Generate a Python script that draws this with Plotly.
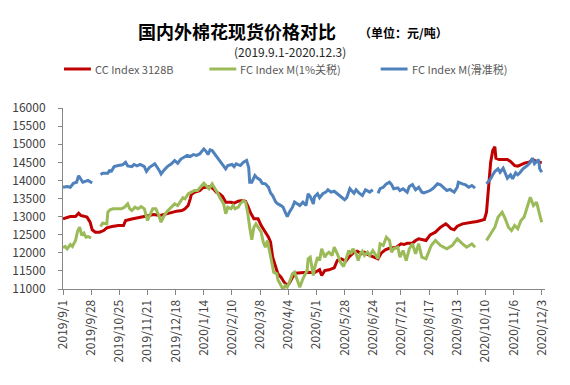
import plotly.graph_objects as go

# ---------------- data ----------------
red_dates = ["2019-09-01","2019-09-04","2019-09-08","2019-09-13","2019-09-16","2019-09-18","2019-09-22","2019-09-24",
             "2019-09-27","2019-09-29","2019-10-02","2019-10-06","2019-10-10","2019-10-13","2019-10-18","2019-10-24",
             "2019-10-29","2019-10-31","2019-11-06","2019-11-14","2019-11-22","2019-11-27","2019-12-03","2019-12-08",
             "2019-12-12","2019-12-19","2019-12-24","2019-12-27","2019-12-30","2020-01-01","2020-01-02","2020-01-05",
             "2020-01-10","2020-01-13","2020-01-17","2020-01-20","2020-01-23","2020-01-26","2020-01-29","2020-02-01",
             "2020-02-04","2020-02-09","2020-02-12","2020-02-16","2020-02-20","2020-02-23","2020-02-25","2020-02-28",
             "2020-03-02","2020-03-06","2020-03-09","2020-03-12","2020-03-16","2020-03-18","2020-03-20","2020-03-23",
             "2020-03-25","2020-03-28","2020-03-31","2020-04-03","2020-04-05","2020-04-08","2020-04-11","2020-04-16",
             "2020-04-23","2020-04-29","2020-05-04","2020-05-06","2020-05-09","2020-05-13","2020-05-18","2020-05-21",
             "2020-05-25","2020-05-29","2020-06-01","2020-06-06","2020-06-09","2020-06-13","2020-06-16","2020-06-19",
             "2020-06-24","2020-06-29","2020-07-02","2020-07-06","2020-07-11","2020-07-16","2020-07-21","2020-07-24",
             "2020-07-27","2020-08-01","2020-08-04","2020-08-07","2020-08-11","2020-08-14","2020-08-18","2020-08-23",
             "2020-08-28","2020-09-02","2020-09-04","2020-09-07","2020-09-10","2020-09-13","2020-09-18","2020-09-22",
             "2020-09-27","2020-10-02","2020-10-07","2020-10-09","2020-10-11","2020-10-12","2020-10-14","2020-10-15",
             "2020-10-17","2020-10-19","2020-10-20","2020-10-23","2020-10-28","2020-10-31","2020-11-03","2020-11-07",
             "2020-11-10","2020-11-13","2020-11-17","2020-11-21","2020-11-24","2020-11-27","2020-12-01","2020-12-03"]
red_vals = [12940,12966,13000,13000,13095,13030,13000,12985,
            12845,12635,12570,12570,12615,12690,12725,12755,
            12755,12890,12935,12985,13030,13058,13030,13058,
            13095,13150,13168,13215,13306,13491,13610,13674,
            13720,13795,13812,13831,13767,13674,13629,13555,
            13397,13397,13370,13425,13444,13425,13306,13094,
            12939,12939,12754,12616,12431,12293,11878,11602,
            11420,11326,11188,11097,11160,11326,11436,11450,
            11465,11447,11530,11373,11511,11530,11585,11787,
            11834,11768,11878,12016,12044,11972,12016,11953,
            11898,11834,11989,12083,12138,12138,12248,12229,
            12266,12266,12340,12386,12359,12340,12497,12569,
            12707,12800,12754,12663,12635,12735,12800,12828,
            12845,12864,12892,12920,13121,13491,14043,14503,
            14825,14930,14613,14577,14577,14577,14522,14411,
            14392,14430,14485,14503,14577,14540,14503,14485]

green_dates = ["2019-09-01","2019-09-03","2019-09-05","2019-09-08","2019-09-10","2019-09-13","2019-09-15","2019-09-17",
               "2019-09-19","2019-09-21","2019-09-23","2019-09-25","2019-09-28","2019-10-03","2019-10-07","2019-10-09",
               "2019-10-13","2019-10-14","2019-10-16","2019-10-19","2019-10-23","2019-10-27","2019-10-30","2019-11-02",
               "2019-11-04","2019-11-06","2019-11-09","2019-11-12","2019-11-15","2019-11-18","2019-11-21","2019-11-23",
               "2019-11-26","2019-11-29","2019-12-02","2019-12-04","2019-12-07","2019-12-10","2019-12-14","2019-12-17",
               "2019-12-20","2019-12-23","2019-12-25","2019-12-27","2019-12-30","2020-01-02","2020-01-05","2020-01-08",
               "2020-01-11","2020-01-14","2020-01-17","2020-01-19","2020-01-22","2020-01-24","2020-01-27","2020-01-30",
               "2020-02-02","2020-02-04","2020-02-06","2020-02-09","2020-02-11","2020-02-13","2020-02-16","2020-02-18",
               "2020-02-21","2020-02-23","2020-02-25","2020-02-27","2020-02-29","2020-03-02","2020-03-04","2020-03-07",
               "2020-03-09","2020-03-11","2020-03-13","2020-03-15","2020-03-17","2020-03-19","2020-03-21","2020-03-24",
               "2020-03-25","2020-03-28","2020-03-30","2020-04-01","2020-04-03","2020-04-05","2020-04-08","2020-04-10",
               "2020-04-13","2020-04-15","2020-04-18","2020-04-22","2020-04-23","2020-04-25","2020-04-28","2020-04-29",
               "2020-05-02","2020-05-04","2020-05-06","2020-05-09","2020-05-11","2020-05-13","2020-05-16","2020-05-18",
               "2020-05-21","2020-05-24","2020-05-27","2020-05-29","2020-06-01","2020-06-03","2020-06-05","2020-06-08",
               "2020-06-10","2020-06-12","2020-06-14","2020-06-16","2020-06-19","2020-06-21","2020-06-24","2020-06-26",
               "2020-06-29","2020-07-01","2020-07-04","2020-07-07","2020-07-10","2020-07-12","2020-07-14","2020-07-18",
               "2020-07-20","2020-07-23","2020-07-26","2020-07-29","2020-08-01","2020-08-04","2020-08-07","2020-08-10",
               "2020-08-14","2020-08-19","2020-08-23","2020-08-28","2020-09-03","2020-09-08","2020-09-13","2020-09-18",
               "2020-09-22","2020-09-27","2020-09-30","2020-10-05","2020-10-11","2020-10-15","2020-10-19","2020-10-22",
               "2020-10-26","2020-10-29","2020-11-01","2020-11-04","2020-11-07","2020-11-10","2020-11-13","2020-11-16",
               "2020-11-19","2020-11-22","2020-11-25","2020-11-28","2020-12-02","2020-12-03"]
green_vals = [12138,12174,12110,12229,12174,12340,12597,12707,
              12478,12542,12431,12450,12414,None,12726,12818,
              12800,13121,13187,13215,13215,13215,13260,13353,
              13215,13168,13260,13215,13279,13215,12892,13030,
              13215,13215,13030,12845,13030,13150,13260,13353,
              13306,13444,13520,13491,13629,13674,13720,13720,
              13812,13922,13831,13767,13905,13812,13657,13491,
              13353,13077,13260,13215,13306,13215,13260,13353,
              13444,13397,13121,12707,12359,12707,12800,12663,
              12569,12293,12155,12340,12016,11696,11464,11420,
              11254,11097,10980,11097,11050,11188,11420,11464,
              11188,11050,11282,11511,11834,11878,11373,11558,
              11878,11787,12110,11878,11972,12016,11925,12155,
              11972,11740,11621,11787,12063,11972,12110,11972,
              11787,11972,12044,11925,12016,11925,12063,11972,
              11834,12248,12202,12431,12340,12016,12110,12155,
              11878,12063,11787,12110,12248,11972,12248,11878,
              11834,12200,12340,12202,12110,12200,12386,12248,
              12155,12248,12155,None,12340,12524,12707,12983,
              13121,12939,12707,12616,12754,12663,12892,12983,
              13260,13536,13306,13397,12939,12845]

blue_dates = ["2019-09-01","2019-09-05","2019-09-08","2019-09-11","2019-09-14","2019-09-16","2019-09-18","2019-09-20",
              "2019-09-23","2019-09-25","2019-09-29","2019-10-03","2019-10-07","2019-10-09","2019-10-14","2019-10-16",
              "2019-10-17","2019-10-20","2019-10-24","2019-10-28","2019-10-31","2019-11-02","2019-11-06","2019-11-08",
              "2019-11-11","2019-11-14","2019-11-18","2019-11-20","2019-11-23","2019-11-26","2019-11-28","2019-12-02",
              "2019-12-04","2019-12-07","2019-12-10","2019-12-14","2019-12-17","2019-12-20","2019-12-23","2019-12-26",
              "2019-12-29","2020-01-01","2020-01-04","2020-01-07","2020-01-10","2020-01-14","2020-01-16","2020-01-18",
              "2020-01-20","2020-01-22","2020-01-25","2020-01-28","2020-01-31","2020-02-04","2020-02-06","2020-02-10",
              "2020-02-12","2020-02-14","2020-02-18","2020-02-21","2020-02-24","2020-02-26","2020-02-27","2020-02-29",
              "2020-03-03","2020-03-05","2020-03-08","2020-03-10","2020-03-13","2020-03-16","2020-03-18","2020-03-20",
              "2020-03-23","2020-03-25","2020-03-28","2020-03-30","2020-04-01","2020-04-03","2020-04-05","2020-04-08",
              "2020-04-10","2020-04-13","2020-04-15","2020-04-18","2020-04-21","2020-04-23","2020-04-25","2020-04-28",
              "2020-04-29","2020-05-02","2020-05-04","2020-05-07","2020-05-10","2020-05-12","2020-05-15","2020-05-18",
              "2020-05-21","2020-05-25","2020-05-28","2020-05-30","2020-06-02","2020-06-06","2020-06-08","2020-06-11",
              "2020-06-14","2020-06-17","2020-06-21","2020-06-24","2020-06-26","2020-06-29","2020-07-01","2020-07-04",
              "2020-07-07","2020-07-10","2020-07-12","2020-07-14","2020-07-18","2020-07-20","2020-07-23","2020-07-27",
              "2020-07-29","2020-08-01","2020-08-04","2020-08-07","2020-08-10","2020-08-12","2020-08-15","2020-08-18",
              "2020-08-21","2020-08-25","2020-08-28","2020-08-31","2020-09-03","2020-09-06","2020-09-10","2020-09-13",
              "2020-09-14","2020-09-18","2020-09-21","2020-09-24","2020-09-27","2020-09-30","2020-10-05","2020-10-11",
              "2020-10-15","2020-10-17","2020-10-19","2020-10-22","2020-10-24","2020-10-27","2020-10-29","2020-10-31",
              "2020-11-03","2020-11-05","2020-11-08","2020-11-10","2020-11-12","2020-11-15","2020-11-19","2020-11-22",
              "2020-11-24","2020-11-26","2020-11-28","2020-11-30","2020-12-01","2020-12-03"]
blue_vals = [13810,13830,13810,13920,13950,14130,14040,13950,
             13980,14000,13930,None,14160,14200,14200,14290,
             14230,14380,14410,14430,14500,14400,14380,14440,
             14400,14440,14380,14250,14360,14420,14460,14290,
             14180,14290,14380,14460,14550,14475,14590,14640,
             14690,14660,14715,14690,14730,14870,14810,14715,
             14845,14825,14715,14600,14475,14320,14410,14440,
             14380,14460,14410,14500,14550,14360,13950,13950,
             14135,14070,14015,13920,13905,13810,13650,13580,
             13400,13350,13305,13260,13120,13000,13120,13260,
             13400,13350,13305,13400,13310,13630,13555,13350,
             13540,13630,13520,13630,13675,13740,13675,13700,
             13630,13535,13465,13520,13770,13645,13740,13645,
             13580,13740,13675,13740,None,13645,13770,13810,
             13905,13950,13885,13770,13795,13720,13770,13675,
             13830,13885,13740,13810,13675,13655,13695,13720,
             13785,13905,13875,13810,13720,13750,13675,13810,
             13950,13905,13875,13810,13860,13785,None,13905,
             14045,14155,14245,14320,14225,14335,14210,14060,
             14155,14045,14210,14155,14210,14320,14410,14500,
             14615,14460,14520,14575,14320,14225]

series_names = ["CC Index 3128B", "FC Index M(1%关税)", "FC Index M(滑准税)"]
series_colors = ["#C00000", "#9BBB59", "#4F81BD"]

tick_dates = ["2019-09-01","2019-09-28","2019-10-25","2019-11-21","2019-12-18","2020-01-14","2020-02-10",
              "2020-03-08","2020-04-04","2020-05-01","2020-05-28","2020-06-24","2020-07-21","2020-08-17",
              "2020-09-13","2020-10-10","2020-11-06","2020-12-03"]
tick_labels = ["2019/9/1","2019/9/28","2019/10/25","2019/11/21","2019/12/18","2020/1/14","2020/2/10",
               "2020/3/8","2020/4/4","2020/5/1","2020/5/28","2020/6/24","2020/7/21","2020/8/17",
               "2020/9/13","2020/10/10","2020/11/6","2020/12/3"]
y_ticks = [11000,11500,12000,12500,13000,13500,14000,14500,15000,15500,16000]
y_labels = ["11000","11500","12000","12500","13000","13500","14000","14500","15000","15500","16000"]

title_text = "国内外棉花现货价格对比"
unit_text = "（单位：元/吨）"
subtitle_text = "(2019.9.1-2020.12.3)"

# ---------------- figure ----------------
FONT = "Noto Sans CJK SC, Noto Sans, sans-serif"
W_PX, H_PX = 570, 385
L, R, T, B = 61, 25, 108, 96
PW, PH = W_PX - L - R, H_PX - T - B

def fx(x):
    return (x - L) / PW

def fy(y):
    return (T + PH - y) / PH

fig = go.Figure()
all_dates = [red_dates, green_dates, blue_dates]
all_vals = [red_vals, green_vals, blue_vals]
for name, color, d, v in zip(series_names, series_colors, all_dates, all_vals):
    fig.add_trace(go.Scatter(x=d, y=v, mode="lines", name=name, connectgaps=False,
                             line=dict(color=color, width=3), showlegend=False))

fig.update_layout(
    width=W_PX, height=H_PX,
    margin=dict(l=L, r=R, t=T, b=B, pad=0),
    paper_bgcolor="white", plot_bgcolor="white",
    font=dict(family=FONT, color="#404040", size=12),
    showlegend=False,
)
fig.update_xaxes(
    type="date", range=["2019-09-01", "2020-12-06 02:00"],
    tickmode="array", tickvals=tick_dates, ticktext=tick_labels,
    tickangle=-90, ticks="outside", ticklen=5, tickcolor="#868686", tickwidth=1,
    showline=True, linecolor="#868686", linewidth=1, showgrid=False, zeroline=False,
    tickfont=dict(size=12, color="#404040", family=FONT),
)
fig.update_yaxes(
    range=[11000, 16000], tickmode="array", tickvals=y_ticks, ticktext=y_labels,
    ticks="outside", ticklen=4, tickcolor="#868686", tickwidth=1,
    showline=True, linecolor="#868686", linewidth=1, showgrid=False, zeroline=False,
    tickfont=dict(size=12, color="#404040", family=FONT), ticklabelstandoff=10,
)

ann = []
ann.append(dict(text="<b>" + title_text + "</b>", x=fx(235.5), y=fy(31), xref="paper", yref="paper",
                xanchor="center", yanchor="middle", showarrow=False,
                font=dict(size=18, color="#000000", family=FONT)))
ann.append(dict(text="<b>" + unit_text + "</b>", x=fx(356), y=fy(32), xref="paper", yref="paper",
                xanchor="left", yanchor="middle", showarrow=False,
                font=dict(size=12, color="#000000", family=FONT)))
ann.append(dict(text=subtitle_text, x=fx(289), y=fy(51), xref="paper", yref="paper",
                xanchor="center", yanchor="middle", showarrow=False,
                font=dict(size=12, color="#262626", family=FONT)))

legend_line_x = [(62, 89), (208, 235), (380, 407)]
shapes = []
for (x0, x1), name, color in zip(legend_line_x, series_names, series_colors):
    shapes.append(dict(type="line", xref="paper", yref="paper", x0=fx(x0), x1=fx(x1),
                       y0=fy(69), y1=fy(69), line=dict(color=color, width=3)))
    ann.append(dict(text=name, x=fx(x1 + 2), y=fy(69), xref="paper", yref="paper",
                    xanchor="left", yanchor="middle", showarrow=False,
                    font=dict(size=11, color="#595959", family=FONT)))

fig.update_layout(annotations=ann, shapes=shapes)
fig.write_html("out.html", config={"displayModeBar": False, "staticPlot": True},
               post_script="document.body.style.margin='0';")
